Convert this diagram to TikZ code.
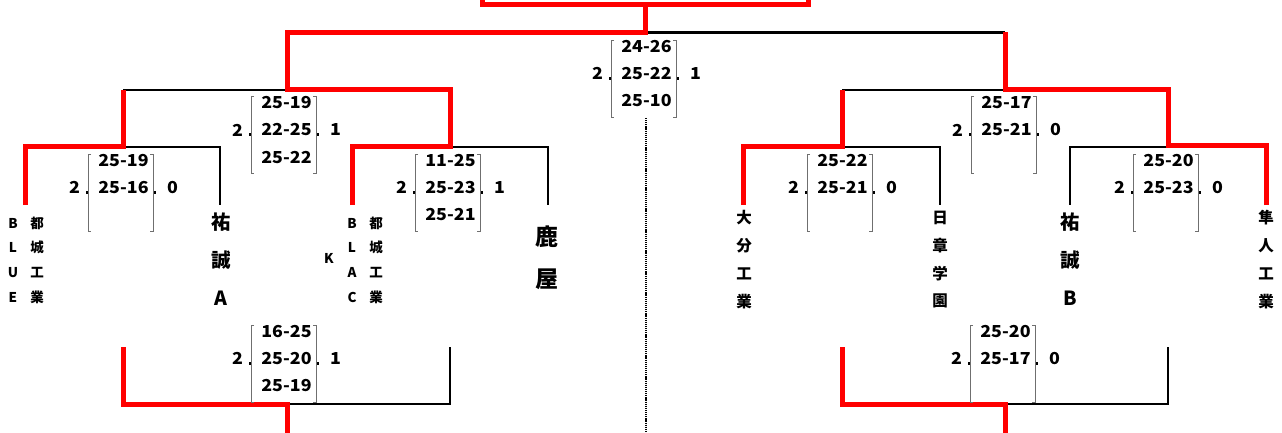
\documentclass[tikz,border=0pt]{standalone}
\usepackage{fontspec}
\setmainfont{Noto Sans CJK JP}
\newfontfamily\scorefont{Noto Sans CJK JP}[FakeStretch=1.08]
\definecolor{winred}{HTML}{FF0000}
\definecolor{brkgray}{HTML}{6F6F6F}
\newcommand\scoreblk[8]{%
  \draw[brk] ({#2+3},{#3}) -- ({#2},{#3}) -- ({#2},{#3+77}) -- ({#2+3},{#3+77});
  \draw[brk] ({#2+62},{#3}) -- ({#2+65},{#3}) -- ({#2+65},{#3+77}) -- ({#2+62},{#3+77});
  \fill ({#2-2.5},{#3+37}) rectangle ({#2-0.5},{#3+40});
  \fill ({#2+66},{#3+37}) rectangle ({#2+68},{#3+40});
  \node[score] (#1a) at ({#2+35.5},{#3+6.5}) {#4};
  \node[score] (#1b) at ({#2+35.5},{#3+33.5}) {#5};
  \if\relax\detokenize{#6}\relax\else\node[score] (#1c) at ({#2+35.5},{#3+61}) {#6};\fi
  \node[score] (#1l) at ({#2-13.5},{#3+33.5}) {#7};
  \node[score] (#1w) at ({#2+84.5},{#3+33.5}) {#8};
}
\newcommand\vname[6]{%
  \foreach \c [count=\i] in {#6} \node[#5] (#1\i) at ({#2},{#3+(\i-1)*#4}) {\c};
}
\begin{document}
\begin{tikzpicture}[x=1pt,y=-1pt,
  winline/.style={draw=winred,line width=5pt},
  loseline/.style={draw=black,line width=2.3pt},
  brk/.style={draw=brkgray,line width=0.9pt},
  score/.style={font=\scorefont\bfseries\fontsize{16.5}{16.5}\selectfont,inner sep=0pt},
  tsmall/.style={font=\bfseries\fontsize{13.5}{13.5}\selectfont,inner sep=0pt},
  tmid/.style={font=\bfseries\fontsize{15.5}{15.5}\selectfont,inner sep=0pt},
  tbig/.style={font=\bfseries\fontsize{19.5}{19.5}\selectfont,inner sep=0pt},
  thuge/.style={font=\bfseries\fontsize{23}{23}\selectfont,inner sep=0pt}]
\useasboundingbox[fill=white] (0,0) rectangle (1282,433);

% junction coordinates
\coordinate (tBLUE) at (25,205);
\coordinate (tYA) at (220,205);
\coordinate (tBLACK) at (352,205);
\coordinate (tKANOYA) at (548,205);
\coordinate (mA) at (123,147);
\coordinate (mC) at (450,147);
\coordinate (sL) at (287,90);
\coordinate (fin) at (645,32.5);
\coordinate (boxL) at (482.5,4.5);
\coordinate (boxR) at (808.5,4.5);
\coordinate (tOITA) at (743,205);
\coordinate (tNISSHO) at (940,205);
\coordinate (tYB) at (1070,205);
\coordinate (tHAYATO) at (1266,205);
\coordinate (mR1) at (842,147);
\coordinate (mR2) at (1168,147);
\coordinate (sR) at (1005,90);
\coordinate (bL1) at (123,347);
\coordinate (bL2) at (450,347);
\coordinate (bLj) at (287,404);
\coordinate (bR1) at (842,347);
\coordinate (bR2) at (1168,347);
\coordinate (bRj) at (1005,404);
\coordinate (dotTop) at (646,118);
\coordinate (dotBot) at (646,433);

% dotted divider
\draw[line width=1.8pt,dash pattern=on 1.2pt off 0.9pt] (dotTop) -- (dotBot);

% losing (black) lines
\draw[loseline] (mA) -| (tYA);
\draw[loseline] (mA |- sL) -- (sL);
\draw[loseline] (mC) -| (tKANOYA);
\draw[loseline] (fin) -- (sR |- fin);
\draw[loseline] (mR1 |- sR) -- (sR);
\draw[loseline] (mR1) -| (tNISSHO);
\draw[loseline] (mR2) -| (tYB);
\draw[loseline] (bL2) |- (bLj);
\draw[loseline] (bR2) |- (bRj);

% winning (red) lines
\draw[winline] (tBLUE) |- (mA) -- (mA |- sL);
\draw[winline] (tBLACK) |- (mC) -- (mC |- sL) -- (sL) -- (sL |- fin) -- (fin) -- (fin |- boxL);
\draw[winline] ([yshift=15pt]boxL) -- (boxL) -- (boxR) -- ([yshift=15pt]boxR);
\draw[winline] (tHAYATO) |- ([yshift=1.5pt]mR2) -- (mR2 |- sR) -- (sR) -- (sR |- fin);
\draw[winline] (tOITA) |- (mR1) -- (mR1 |- sR);
\draw[winline] (bL1) |- (bLj) -- ([yshift=-40pt]bLj);
\draw[winline] (bR1) |- (bRj) -- ([yshift=-40pt]bRj);

% score blocks
\scoreblk{F}{611}{40}{24-26}{25-22}{25-10}{2}{1}
\scoreblk{SL}{251}{96.5}{25-19}{22-25}{25-22}{2}{1}
\scoreblk{QA}{88}{154}{25-19}{25-16}{}{2}{0}
\scoreblk{QC}{415}{154}{11-25}{25-23}{25-21}{2}{1}
\scoreblk{BL}{251}{325}{16-25}{25-20}{25-19}{2}{1}
\scoreblk{SR}{971}{96.5}{25-17}{25-21}{}{2}{0}
\scoreblk{QE}{807}{154}{25-22}{25-21}{}{2}{0}
\scoreblk{QG}{1133}{154}{25-20}{25-23}{}{2}{0}
\scoreblk{BR}{970}{325}{25-20}{25-17}{}{2}{0}

% team names
\vname{blue}{13}{223}{24.7}{tsmall}{B,L,U,E}
\vname{miyA}{37}{223}{24.7}{tsmall}{都,城,工,業}
\vname{yuA}{221}{222}{38}{tbig}{祐,誠,A}
\node[tsmall] (kk) at (329,258) {K};
\vname{blac}{352}{223}{24.7}{tsmall}{B,L,A,C}
\vname{miyB}{376}{223}{24.7}{tsmall}{都,城,工,業}
\vname{kan}{547}{237}{42}{thuge}{鹿,屋}
\vname{oita}{744}{218}{27.7}{tmid}{大,分,工,業}
\vname{nis}{940}{218}{27.7}{tmid}{日,章,学,園}
\vname{yuB}{1070}{222}{38}{tbig}{祐,誠,B}
\vname{hay}{1266}{218}{27.7}{tmid}{隼,人,工,業}
\end{tikzpicture}
\end{document}
